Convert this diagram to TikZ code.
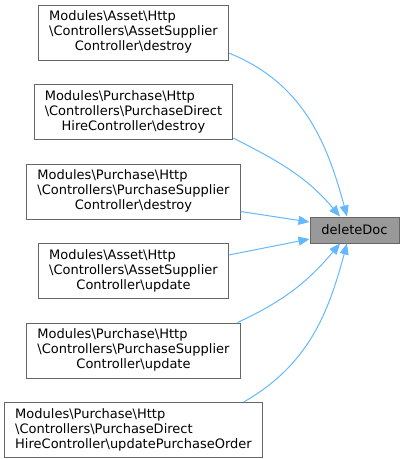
\documentclass[tikz,border=0pt]{standalone}
\usepackage{fontspec}
\setmainfont{DejaVu Sans}
\usetikzlibrary{positioning,arrows.meta,calc}
\definecolor{edgeblue}{HTML}{63B8FF}
\definecolor{boxgray}{HTML}{666666}
\definecolor{fngray}{HTML}{999999}
\newcommand{\bs}{\textbackslash}
\newcommand{\fnlabel}[3]{\begin{tabular}{@{}l@{}}#1\\#2\\\multicolumn{1}{@{}c@{}}{#3}\end{tabular}}

\begin{document}
\begin{tikzpicture}[x=1pt,y=1pt,
  caller/.style={draw=boxgray, line width=1pt, fill=white, minimum height=55pt,
    inner xsep=10.5pt, inner ysep=0pt, font=\fontsize{13}{15}\selectfont},
  callee/.style={caller, fill=fngray, minimum height=26pt, minimum width=89pt},
  call/.style={draw=edgeblue, line width=1pt, -{Triangle[length=11pt,width=9pt]}},
  node distance=23.5pt]
  \useasboundingbox (0,0) rectangle (404,-459);

  % Callers, one column
  \node[caller] (assetdestroy) at (133.5,-32.5) {\fnlabel{Modules\bs Asset\bs Http}{\bs Controllers\bs AssetSupplier}{Controller\bs destroy}};
  \node[caller, below=of assetdestroy] (directdestroy) {\fnlabel{Modules\bs Purchase\bs Http}{\bs Controllers\bs PurchaseDirect}{HireController\bs destroy}};
  \node[caller, below=of directdestroy] (supplierdestroy) {\fnlabel{Modules\bs Purchase\bs Http}{\bs Controllers\bs PurchaseSupplier}{Controller\bs destroy}};
  \node[caller, below=of supplierdestroy] (assetupdate) {\fnlabel{Modules\bs Asset\bs Http}{\bs Controllers\bs AssetSupplier}{Controller\bs update}};
  \node[caller, below=of assetupdate] (supplierupdate) {\fnlabel{Modules\bs Purchase\bs Http}{\bs Controllers\bs PurchaseSupplier}{Controller\bs update}};
  \node[caller, below=of supplierupdate] (directupdate) {\fnlabel{Modules\bs Purchase\bs Http}{\bs Controllers\bs PurchaseDirect}{HireController\bs updatePurchaseOrder}};

  % Callee
  \node[callee] (deletedoc) at (354.5,-230) {deleteDoc};

  % Edges
  \draw[call] ([yshift=-20.5pt]assetdestroy.east) to[out=-22,in=105] ([xshift=-7.5pt]deletedoc.north);
  \draw[call] ([yshift=2pt]directdestroy.south east) to[out=-27,in=130] ([xshift=-14.5pt]deletedoc.north);
  \draw[call] ([yshift=-20pt]supplierdestroy.east) -- ([yshift=8pt]deletedoc.west);
  \draw[call] ([yshift=16pt]assetupdate.east) -- ([yshift=-9pt]deletedoc.west);
  \draw[call] ([xshift=-3pt]supplierupdate.north east) to[out=25,in=-130] ([xshift=-14.5pt]deletedoc.south);
  \draw[call] ([xshift=-19pt]directupdate.north east) to[out=30,in=-105] ([xshift=-7.5pt]deletedoc.south);
\end{tikzpicture}
\end{document}
